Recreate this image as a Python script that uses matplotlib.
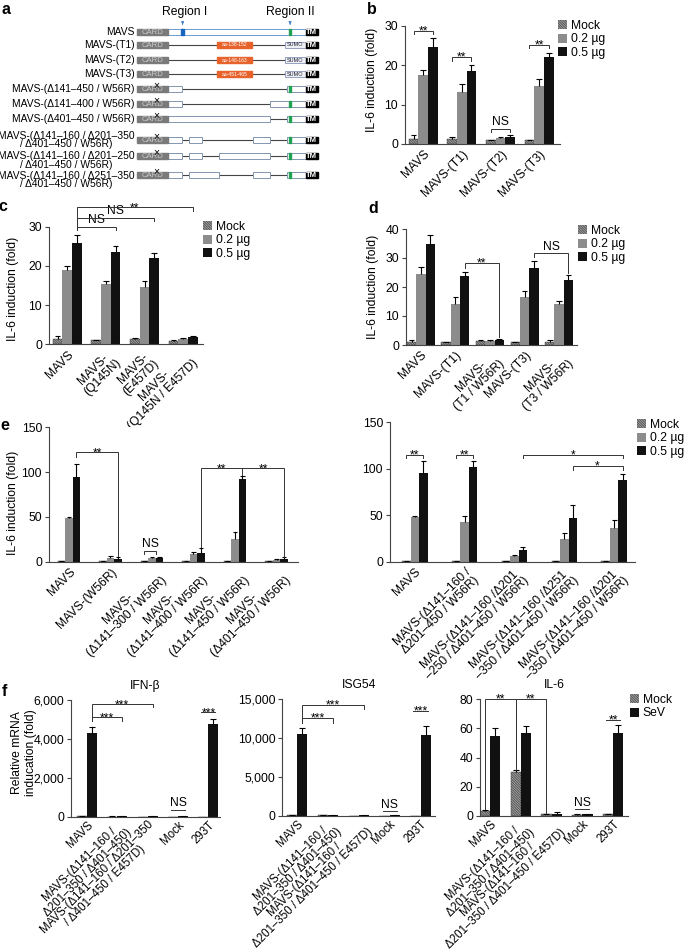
import numpy as np
import matplotlib.pyplot as plt
from matplotlib.patches import Rectangle, Patch

plt.rcParams['font.family'] = ['Liberation Sans', 'DejaVu Sans']
plt.rcParams['hatch.linewidth'] = 0.55
FS = 8.7

# ---------------- data ----------------
# a: construct schematic (residue ranges)
constructs = ['MAVS', 'MAVS-(T1)', 'MAVS-(T2)', 'MAVS-(T3)',
              'MAVS-(Δ141–450 / W56R)', 'MAVS-(Δ141–400 / W56R)', 'MAVS-(Δ401–450 / W56R)',
              'MAVS-(Δ141–160 / Δ201–350\n/ Δ401–450 / W56R)',
              'MAVS-(Δ141–160 / Δ201–250\n/ Δ401–450 / W56R)',
              'MAVS-(Δ141–160 / Δ251–350\n/ Δ401–450 / W56R)']
kept = [[(100, 505)], [], [], [],
        [(100, 140), (450, 505)],
        [(100, 140), (400, 505)],
        [(100, 400), (450, 505)],
        [(100, 140), (160, 200), (350, 400), (450, 505)],
        [(100, 140), (160, 200), (250, 400), (450, 505)],
        [(100, 140), (160, 250), (350, 400), (450, 505)]]
inserts = [None, 'aa-138-152', 'aa-148-163', 'aa-451-465', None, None, None, None, None, None]

# b
b_labels = ['MAVS', 'MAVS-(T1)', 'MAVS-(T2)', 'MAVS-(T3)']
b_mock = [1.3, 1.3, 0.9, 0.9]
b_mock_err = [0.9, 0.4, 0.2, 0.2]
b_02 = [17.5, 13.1, 1.4, 14.7]
b_02_err = [1.2, 2.1, 0.3, 1.7]
b_05 = [24.7, 18.4, 1.9, 22.0]
b_05_err = [2.1, 1.6, 0.3, 1.2]

# c
c_labels = ['MAVS', 'MAVS-\n(Q145N)', 'MAVS-\n(E457D)', 'MAVS-\n(Q145N / E457D)']
c_mock = [1.3, 1.0, 1.3, 0.9]
c_mock_err = [0.7, 0.2, 0.3, 0.2]
c_02 = [18.9, 15.5, 14.5, 1.3]
c_02_err = [1.1, 0.6, 1.7, 0.2]
c_05 = [25.9, 23.6, 22.1, 1.8]
c_05_err = [2.1, 1.6, 1.3, 0.3]

# d
d_labels = ['MAVS', 'MAVS-(T1)', 'MAVS-\n(T1 / W56R)', 'MAVS-(T3)', 'MAVS-\n(T3 / W56R)']
d_mock = [1.0, 0.9, 1.3, 0.9, 1.2]
d_mock_err = [0.8, 0.2, 0.4, 0.2, 0.6]
d_02 = [24.5, 14.1, 1.5, 16.4, 14.0]
d_02_err = [2.5, 2.6, 0.2, 2.3, 1.1]
d_05 = [34.7, 23.7, 1.8, 26.6, 22.5]
d_05_err = [3.3, 1.6, 0.4, 2.5, 1.6]

# e (left)
e1_labels = ['MAVS', 'MAVS-(W56R)', 'MAVS-\n(Δ141–300 / W56R)', 'MAVS-\n(Δ141–400 / W56R)',
             'MAVS-\n(Δ141–450 / W56R)', 'MAVS-\n(Δ401–450 / W56R)']
e1_mock = [0.8, 0.9, 0.8, 0.8, 0.8, 0.9]
e1_mock_err = [0.3, 0.3, 0.3, 0.3, 0.3, 0.3]
e1_02 = [48.4, 3.7, 4.5, 8.2, 25.3, 2.0]
e1_02_err = [1.1, 3.0, 1.1, 3.0, 7.4, 0.8]
e1_05 = [94.9, 3.4, 4.3, 10.0, 91.9, 3.3]
e1_05_err = [13.8, 1.4, 0.9, 4.9, 3.7, 1.5]

# e (right)
e2_labels = ['MAVS', 'MAVS-(Δ141–160 /\nΔ201–450 / W56R)', 'MAVS-(Δ141–160 /Δ201\n–250 / Δ401–450 / W56R)',
             'MAVS-(Δ141–160 /Δ251\n–350 / Δ401–450 / W56R)', 'MAVS-(Δ141–160 /Δ201\n–350 / Δ401–450 / W56R)']
e2_mock = [0.8, 0.9, 0.8, 0.9, 0.9]
e2_mock_err = [0.3, 0.3, 0.3, 0.3, 0.3]
e2_02 = [47.7, 43.1, 6.1, 24.4, 35.9]
e2_02_err = [1.8, 6.1, 0.7, 6.1, 9.0]
e2_05 = [95.1, 102.3, 12.2, 47.4, 87.9]
e2_05_err = [13.3, 6.4, 3.9, 13.6, 6.5]

# f
f_labels_ifn = ['MAVS', 'MAVS-(Δ141–160 /\nΔ201–350 / Δ401–450)',
                'MAVS-(Δ141–160 / Δ201–350\n/ Δ401–450 / E457D)', 'Mock', '293T']
f_labels = ['MAVS', 'MAVS-(Δ141–160 /\nΔ201–350 / Δ401–450)',
            'MAVS-(Δ141–160 /\nΔ201–350 / Δ401–450 / E457D)', 'Mock', '293T']
ifn_mock = [20, 10, 5, 5, 5]
ifn_mock_err = [5, 3, 2, 2, 2]
ifn_sev = [4290, 30, 15, 15, 4750]
ifn_sev_err = [300, 10, 5, 5, 260]
isg_mock = [60, 40, 20, 20, 20]
isg_mock_err = [10, 8, 5, 5, 5]
isg_sev = [10490, 90, 40, 40, 10400]
isg_sev_err = [770, 20, 10, 10, 1160]
il6_mock = [3.4, 29.9, 1.3, 1.0, 1.2]
il6_mock_err = [0.7, 1.6, 0.4, 0.2, 0.3]
il6_sev = [55.1, 57.1, 1.5, 1.3, 56.7]
il6_sev_err = [5.0, 4.8, 1.0, 0.3, 5.7]

# ---------------- layout helpers ----------------
W, H = 685, 950
fig = plt.figure(figsize=(W / 100, H / 100), dpi=100)


def box(x0, y0, x1, y1):
    return [x0 / W, 1 - y1 / H, (x1 - x0) / W, (y1 - y0) / H]


def ftext(x, y, s, **kw):
    fig.text(x / W, 1 - y / H, s, **kw)


HATCH = '\\' * 20
MOCK = dict(facecolor='white', edgecolor='#333333', hatch=HATCH, linewidth=0.3)
LOW = dict(facecolor='#8c8c8c', edgecolor='none')
HIGH = dict(facecolor='#111111', edgecolor='none')


def bar_panel(ax, labels, series, errs, styles, width, xlim, ylim, yticks, ytl=None,
              xfs=FS, xpad=3, ls=1.0):
    n = len(series)
    for s in range(n):
        x = np.arange(len(labels)) + (s - (n - 1) / 2) * width
        v = np.array(series[s], float)
        e = np.array(errs[s], float)
        ax.bar(x, v, width, zorder=2, **styles[s])
        ax.vlines(x, v, v + e, color='black', lw=0.8, zorder=3)
        ax.hlines(v + e, x - width * 0.3, x + width * 0.3, color='black', lw=0.8, zorder=3)
    ax.set_xlim(*xlim)
    ax.set_ylim(*ylim)
    ax.set_yticks(yticks)
    if ytl:
        ax.set_yticklabels(ytl)
    ax.set_xticks(np.arange(len(labels)))
    ax.set_xticklabels(labels, rotation=45, ha='right', va='top', rotation_mode='anchor',
                       ma='center', fontsize=xfs, linespacing=ls)
    ax.tick_params(axis='x', length=0, pad=xpad)
    ax.tick_params(axis='y', length=3, width=0.8, labelsize=FS, pad=2, color='#444444')
    for sp in ['top', 'right']:
        ax.spines[sp].set_visible(False)
    for sp in ['left', 'bottom']:
        ax.spines[sp].set_linewidth(0.8)
        ax.spines[sp].set_color('#444444')


def xp(g, s, n, w):
    return g + (s - (n - 1) / 2) * w


def bracket(ax, x1, x2, y, label, y1, y2, lx=None):
    ax.plot([x1, x1, x2, x2], [y1, y, y, y2], color='#333333', lw=0.7,
            clip_on=False, zorder=4, solid_joinstyle='miter')
    if lx is None:
        lx = (x1 + x2) / 2
    if label.startswith('*'):
        ax.annotate(label, (lx, y), xytext=(0, -2.6), textcoords='offset points',
                    ha='center', va='baseline', fontsize=FS, annotation_clip=False)
    elif label:
        ax.annotate(label, (lx, y), xytext=(0, 0.5), textcoords='offset points',
                    ha='center', va='bottom', fontsize=FS, annotation_clip=False)


def legend(labels, handles, x, y):
    fig.legend(handles, labels, loc='upper left', bbox_to_anchor=(x / W, 1 - y / H),
               frameon=False, fontsize=FS, handlelength=0.75, handleheight=0.75,
               handletextpad=0.3, labelspacing=0.12, borderpad=0, borderaxespad=0)


h_mock = Patch(facecolor='white', edgecolor='#333333', hatch=HATCH, linewidth=0)
h_low = Patch(**LOW)
h_high = Patch(**HIGH)

# ---------------- a: schematic ----------------
ax = fig.add_axes(box(0, 0, 330, 195))
ax.axis('off')
k = 0.339
ax.set_xlim((0 - 134.5) / k, (330 - 134.5) / k)
ax.set_ylim(195, 0)
row_y = [32, 45, 60, 74, 89, 104, 119, 140, 156, 175]
label_dy = [0, 0, 0, 0, 0, 0, 0, 0, 4.5, 5]
bh = 6.2
for i, name in enumerate(constructs):
    y = row_y[i]
    ax.text(1, y + label_dy[i], name, ha='right', va='center', ma='center',
            fontsize=7.4, linespacing=0.87)
    if i > 0:
        end = 444 if inserts[i] else 505
        ax.plot([100, end], [y, y], color='#444444', lw=0.8, zorder=1)
    for (s0, s1) in kept[i]:
        ec = '#6e9bd1' if i == 0 else '#8396b0'
        ax.add_patch(Rectangle((s0, y - bh / 2 + 0.4), s1 - s0, bh - 0.8, fc='white', ec=ec, lw=0.7, zorder=2))
    if i == 0:
        ax.add_patch(Rectangle((138, y - bh / 2 + 0.4), 8, bh - 0.8, color='#1565c0', zorder=3))
    if kept[i]:
        ax.add_patch(Rectangle((455, y - bh / 2 + 0.4), 8, bh - 0.8, color='#21a153', zorder=3))
    if inserts[i]:
        ax.add_patch(Rectangle((243, y - bh / 2), 104, bh, color='#e8622b', zorder=2))
        ax.text(295, y, inserts[i], ha='center', va='center', fontsize=3.6, color='white', zorder=3)
        ax.add_patch(Rectangle((444, y - bh / 2 + 0.4), 61, bh - 0.8, fc='#eef0f6', ec='#8795b5', lw=0.6, zorder=2))
        ax.text(474, y, 'SUMO', ha='center', va='center', fontsize=4, color='#223', zorder=3)
    ax.add_patch(Rectangle((8, y - bh / 2), 92, bh, color='#7a7a7a', zorder=2))
    ax.text(54, y + 0.3, 'CARD', ha='center', va='center', fontsize=5.6, color='#c9c9c9', zorder=3)
    ax.add_patch(Rectangle((505, y - bh / 2), 35, bh, color='black', zorder=2))
    ax.text(522, y + 0.3, 'TM', ha='center', va='center', fontsize=5.6, color='white',
            fontweight='bold', zorder=3)
    if i >= 4:
        ax.text(64, y - 3.4, '×', ha='center', va='center', fontsize=7.5, zorder=4)
ax.text((185 - 134.5) / k, 12, 'Region I', ha='center', va='center', fontsize=FS)
ax.text((290 - 134.5) / k, 12, 'Region II', ha='center', va='center', fontsize=FS)
for r in [142, 459]:
    ax.annotate('', xy=(r, 27.5), xytext=(r, 21),
                arrowprops=dict(arrowstyle='-|>', color='#3d7cc9', lw=0.6, mutation_scale=4))

# ---------------- b ----------------
ax = fig.add_axes(box(405, 25.7, 560, 144))
wb = 0.25
bar_panel(ax, b_labels, [b_mock, b_02, b_05], [b_mock_err, b_02_err, b_05_err],
          [MOCK, LOW, HIGH], wb, (-0.47, 3.54), (0, 30), [0, 10, 20, 30])
for g, y, lab in [(0, 28.7, '**'), (1, 22.0, '**'), (2, 3.8, 'NS'), (3, 25.1, '**')]:
    bracket(ax, xp(g, 0, 3, wb), xp(g, 2, 3, wb), y, lab, y - 0.85, y - 0.85)
ftext(371.7, 80, 'IL-6 induction (fold)', rotation=90, ha='center', va='center', fontsize=FS)
legend(['Mock', '0.2 µg', '0.5 µg'], [h_mock, h_low, h_high], 558, 20)

# ---------------- c ----------------
ax = fig.add_axes(box(49, 226.7, 203.3, 344.3))
wc = 0.25
bar_panel(ax, c_labels, [c_mock, c_02, c_05], [c_mock_err, c_02_err, c_05_err],
          [MOCK, LOW, HIGH], wc, (-0.47, 3.52), (0, 30), [0, 10, 20, 30])
for g, y, lab in [(1, 30.0, 'NS'), (2, 32.3, 'NS'), (3, 34.9, '**')]:
    bracket(ax, xp(0, 2, 3, wc), xp(g, 2, 3, wc), y, lab, 29.2, y - 0.8)
ftext(13.3, 289, 'IL-6 induction (fold)', rotation=90, ha='center', va='center', fontsize=FS)
legend(['Mock', '0.2 µg', '0.5 µg'], [h_mock, h_low, h_high], 203, 221)

# ---------------- d ----------------
ax = fig.add_axes(box(406, 229, 576.7, 345))
wd = 0.27
bar_panel(ax, d_labels, [d_mock, d_02, d_05], [d_mock_err, d_02_err, d_05_err],
          [MOCK, LOW, HIGH], wd, (-0.43, 4.51), (0, 40), [0, 10, 20, 30, 40])
bracket(ax, xp(1, 2, 3, wd), xp(2, 2, 3, wd), 28.4, '**', 26.5, 2.8)
bracket(ax, xp(3, 2, 3, wd), xp(4, 2, 3, wd), 31.6, 'NS', 30.5, 24.9)
ftext(373, 286.7, 'IL-6 induction (fold)', rotation=90, ha='center', va='center', fontsize=FS)
legend(['Mock', '0.2 µg', '0.5 µg'], [h_mock, h_low, h_high], 578, 225)

# ---------------- e left ----------------
ax = fig.add_axes(box(49, 427.3, 297.7, 561.7))
we = 0.18
bar_panel(ax, e1_labels, [e1_mock, e1_02, e1_05], [e1_mock_err, e1_02_err, e1_05_err],
          [MOCK, LOW, HIGH], we, (-0.48, 5.51), (0, 150), [0, 50, 100, 150])
bracket(ax, xp(0, 2, 3, we), xp(1, 2, 3, we), 122, '**', 117, 6.5)
bracket(ax, xp(2, 0, 3, we), xp(2, 1.5, 3, we), 12.3, 'NS', 8.5, 8.5)
bracket(ax, xp(3, 2, 3, we), xp(4, 2, 3, we), 104.2, '**', 16.5, 104.2)
bracket(ax, xp(4, 2, 3, we), xp(5, 2, 3, we), 104.2, '**', 96.5, 5.5)
ftext(13.3, 503, 'IL-6 induction (fold)', rotation=90, ha='center', va='center', fontsize=FS)

# ---------------- e right ----------------
ax = fig.add_axes(box(390, 422.3, 635, 561.7))
we2 = 0.17
bar_panel(ax, e2_labels, [e2_mock, e2_02, e2_05], [e2_mock_err, e2_02_err, e2_05_err],
          [MOCK, LOW, HIGH], we2, (-0.5, 4.42), (0, 150), [0, 50, 100, 150])
for g in [0, 1]:
    bracket(ax, xp(g, 0, 3, we2), xp(g, 2, 3, we2), 114.8, '**', 112, 112)
bracket(ax, xp(2, 2, 3, we2), xp(4, 2, 3, we2), 114.8, '*', 111.2, 111.2)
bracket(ax, xp(3, 2, 3, we2), xp(4, 2, 3, we2), 103.3, '*', 98.7, 98.7)
legend(['Mock', '0.2 µg', '0.5 µg'], [h_mock, h_low, h_high], 637, 419)

# ---------------- f ----------------
wf = 0.33
ffs = 8.3
ax = fig.add_axes(box(71, 700, 220, 816.7))
bar_panel(ax, f_labels_ifn, [ifn_mock, ifn_sev], [ifn_mock_err, ifn_sev_err], [MOCK, HIGH], wf,
          (-0.52, 4.38), (0, 6000), [0, 2000, 4000, 6000], ['0', '2,000', '4,000', '6,000'],
          xfs=ffs, xpad=1.5, ls=0.92)
ax.set_title('IFN-β', fontsize=FS, pad=8)
bracket(ax, xp(0, 1, 2, wf), xp(1, 1, 2, wf), 5108, '***', 4940, 4940)
bracket(ax, xp(0, 1, 2, wf), xp(2, 1, 2, wf), 5777, '***', 4940, 5620)
bracket(ax, xp(4, -0.2, 2, wf), xp(4, 1.2, 2, wf), 5366, '***', 5366, 5366)
bracket(ax, xp(3, -0.2, 2, wf), xp(3, 1.2, 2, wf), 343, 'NS', 343, 343)
ftext(24, 753, 'Relative mRNA\ninducation (fold)', rotation=90, ha='center', va='center', fontsize=FS)

ax = fig.add_axes(box(282.3, 699.3, 435, 815.7))
bar_panel(ax, f_labels, [isg_mock, isg_sev], [isg_mock_err, isg_sev_err], [MOCK, HIGH], wf,
          (-0.48, 4.47), (0, 15000), [0, 5000, 10000, 15000], ['0', '5,000', '10,000', '15,000'],
          xfs=ffs, xpad=1.5, ls=0.92)
ax.set_title('ISG54', fontsize=FS, pad=8)
bracket(ax, xp(0, 1, 2, wf), xp(1, 1, 2, wf), 12550, '***', 11900, 11900)
bracket(ax, xp(0, 1, 2, wf), xp(2, 1, 2, wf), 14270, '***', 11900, 13800)
bracket(ax, xp(4, -0.2, 2, wf), xp(4, 1.2, 2, wf), 13539, '***', 13539, 13539)
bracket(ax, xp(3, -0.2, 2, wf), xp(3, 1.2, 2, wf), 560, 'NS', 560, 560)

ax = fig.add_axes(box(480, 699.3, 628.3, 816))
bar_panel(ax, f_labels, [il6_mock, il6_sev], [il6_mock_err, il6_sev_err], [MOCK, HIGH], wf,
          (-0.32, 4.49), (0, 80), [0, 20, 40, 60, 80], xfs=ffs, xpad=1.5, ls=0.92)
ax.set_title('IL-6', fontsize=FS, pad=8)
bracket(ax, xp(0, 0, 2, wf), xp(1, 0, 2, wf), 80, '**', 4.5, 31.5)
bracket(ax, xp(1, 0, 2, wf), xp(2, 0, 2, wf), 80, '**', 31.5, 2.2)
bracket(ax, xp(4, -0.2, 2, wf), xp(4, 1.2, 2, wf), 65.8, '**', 65.8, 65.8)
bracket(ax, xp(3, -0.2, 2, wf), xp(3, 1.2, 2, wf), 4.6, 'NS', 4.6, 4.6)
legend(['Mock', 'SeV'], [h_mock, h_high], 630, 694)

# panel letters
for lab, x, y in [('a', 6, 9.3), ('b', 371.7, 10), ('c', 3.3, 206.7), ('d', 373.3, 208.3),
                  ('e', 5, 425), ('f', 4, 691.7)]:
    ftext(x, y, lab, fontsize=11.5, fontweight='bold', ha='center', va='center')

fig.savefig('out.png', dpi=100)
